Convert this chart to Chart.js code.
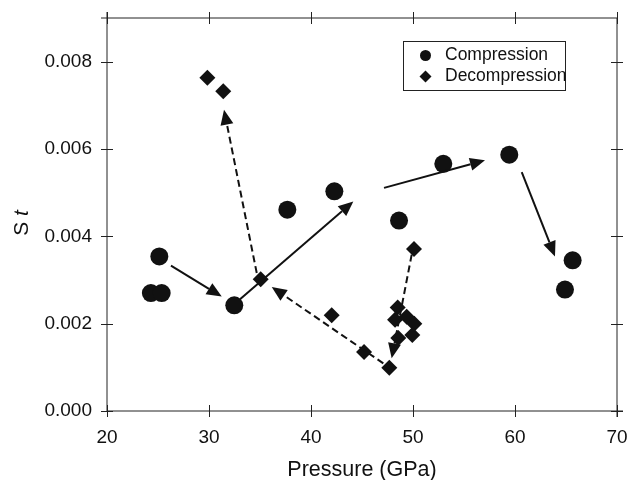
<!DOCTYPE html>
<html>
<head>
<meta charset="utf-8">
<script src="https://cdn.jsdelivr.net/npm/chart.js@4.4.0/dist/chart.umd.min.js"></script>
<style>
  html, body { margin: 0; padding: 0; background: #fff; }
  #wrap { width: 636px; height: 480px; }
</style>
</head>
<body>
<div id="wrap"><canvas id="chart"></canvas></div>
<script>
// Compression points (pressure in GPa, strain St)
const compP  = [24.3, 25.36, 25.13, 32.48, 37.68, 42.29, 48.63, 52.97, 59.44, 65.65, 64.9];
const compSt = [0.0027, 0.0027, 0.00354, 0.00242, 0.00461, 0.00503, 0.00436, 0.00566, 0.00587, 0.00345, 0.00278];

// Decompression points
const decP  = [29.84, 31.4, 35.07, 42.03, 45.2, 47.68, 50.1, 48.5, 48.24, 49.38, 50.13, 48.56, 49.93];
const decSt = [0.00763, 0.00732, 0.00302, 0.00219, 0.00135, 0.00099, 0.00371, 0.00237, 0.00209, 0.00216, 0.002, 0.00167, 0.00174];

// Arrows: start/end in data units
const solidFrom = [[26.27, 0.00333], [33.04, 0.00256], [47.16, 0.00511], [60.66, 0.00547]];
const solidTo   = [[31.25, 0.00262], [44.15, 0.0048], [57.06, 0.00574], [63.92, 0.00354]];
const dashFrom  = [[34.68, 0.00316], [47.09, 0.00109], [49.87, 0.00358]];
const dashTo    = [[31.47, 0.0069], [36.15, 0.00284], [47.91, 0.00121]];

const xTicks = [20, 30, 40, 50, 60, 70];
const yTicks = [0, 0.002, 0.004, 0.006, 0.008];
const seriesNames = ['Compression', 'Decompression'];

const FONT = '"Liberation Sans", Arial, Helvetica, sans-serif';
const INK = '#111';

function toXY(arr) {
  return arr.map((p, i) => ({ x: p, y: arr === compP ? compSt[i] : decSt[i] }));
}

// kill the automatic label overhang padding so layout.padding decides the plot box
function noPad(s) {
  s.paddingLeft = 0; s.paddingRight = 0; s.paddingTop = 0; s.paddingBottom = 0;
}

// frame with ticks crossing all four sides
const frameTicks = {
  id: 'frameTicks',
  beforeDatasetsDraw(chart) {
    const { ctx, chartArea: a, scales: { x, y } } = chart;
    ctx.save();
    ctx.strokeStyle = '#222';
    ctx.lineWidth = 1;
    ctx.beginPath();
    ctx.moveTo(a.left, a.top - 6); ctx.lineTo(a.left, a.bottom);
    ctx.moveTo(a.left, a.bottom); ctx.lineTo(a.right + 6, a.bottom);
    ctx.moveTo(a.left - 6, a.top); ctx.lineTo(a.right, a.top);
    ctx.moveTo(a.right, a.top); ctx.lineTo(a.right, a.bottom + 6);
    xTicks.forEach(v => {
      const px = Math.round(x.getPixelForValue(v)) + 0.5;
      ctx.moveTo(px, a.bottom - 6); ctx.lineTo(px, a.bottom + 6);
      ctx.moveTo(px, a.top - 6); ctx.lineTo(px, a.top + 6);
    });
    yTicks.forEach(v => {
      const py = Math.round(y.getPixelForValue(v)) + 0.5;
      ctx.moveTo(a.left - 6, py); ctx.lineTo(a.left + 6, py);
      ctx.moveTo(a.right - 6, py); ctx.lineTo(a.right + 6, py);
    });
    ctx.stroke();
    ctx.restore();
  }
};

function arrow(ctx, x0, y0, x1, y1, dashed) {
  const ang = Math.atan2(y1 - y0, x1 - x0);
  const hl = 15, hw = 6.5;
  const bx = x1 - Math.cos(ang) * hl, by = y1 - Math.sin(ang) * hl;
  ctx.save();
  ctx.strokeStyle = INK;
  ctx.fillStyle = INK;
  ctx.lineWidth = 2;
  ctx.setLineDash(dashed ? [7, 4] : []);
  ctx.beginPath();
  ctx.moveTo(x0, y0);
  ctx.lineTo(bx, by);
  ctx.stroke();
  ctx.setLineDash([]);
  ctx.beginPath();
  ctx.moveTo(x1, y1);
  ctx.lineTo(bx - Math.sin(ang) * hw, by + Math.cos(ang) * hw);
  ctx.lineTo(bx + Math.sin(ang) * hw, by - Math.cos(ang) * hw);
  ctx.closePath();
  ctx.fill();
  ctx.restore();
}

const arrowsPlugin = {
  id: 'arrows',
  afterDatasetsDraw(chart) {
    const { ctx, scales: { x, y } } = chart;
    solidFrom.forEach((f, i) => {
      const t = solidTo[i];
      arrow(ctx, x.getPixelForValue(f[0]), y.getPixelForValue(f[1]),
        x.getPixelForValue(t[0]), y.getPixelForValue(t[1]), false);
    });
    dashFrom.forEach((f, i) => {
      const t = dashTo[i];
      arrow(ctx, x.getPixelForValue(f[0]), y.getPixelForValue(f[1]),
        x.getPixelForValue(t[0]), y.getPixelForValue(t[1]), true);
    });
  }
};

// boxed legend inside the plot, plus the mixed-style y title
const extras = {
  id: 'extras',
  afterDraw(chart) {
    const { ctx } = chart;
    ctx.save();
    // legend box
    const lx = 403.5, ly = 41.5, lw = 162, lh = 49;
    ctx.strokeStyle = '#222';
    ctx.lineWidth = 1;
    ctx.strokeRect(lx, ly, lw, lh);
    ctx.fillStyle = INK;
    ctx.beginPath();
    ctx.arc(lx + 22, ly + 14, 5.5, 0, Math.PI * 2);
    ctx.fill();
    ctx.beginPath();
    const dx = lx + 22, dy = ly + 35, r = 6;
    ctx.moveTo(dx, dy - r); ctx.lineTo(dx + r, dy); ctx.lineTo(dx, dy + r); ctx.lineTo(dx - r, dy);
    ctx.closePath();
    ctx.fill();
    ctx.font = '17.5px ' + FONT;
    ctx.textBaseline = 'middle';
    ctx.fillText(seriesNames[0], lx + 41.5, ly + 14);
    ctx.fillText(seriesNames[1], lx + 41.5, ly + 35);

    // y title "S t" (t italic)
    ctx.translate(22, 223);
    ctx.rotate(-Math.PI / 2);
    const f1 = '21px ' + FONT, f2 = 'italic 21px ' + FONT;
    ctx.font = f1;
    const wS = ctx.measureText('S ').width;
    ctx.font = f2;
    const wt = ctx.measureText('t').width;
    const start = -(wS + wt) / 2;
    ctx.textBaseline = 'middle';
    ctx.textAlign = 'left';
    ctx.font = f1;
    ctx.fillText('S', start, 0);
    ctx.font = f2;
    ctx.fillText('t', start + wS, 0);
    ctx.restore();
  }
};

new Chart(document.getElementById('chart'), {
  type: 'scatter',
  data: {
    datasets: [
      {
        label: seriesNames[0],
        data: toXY(compP),
        pointStyle: 'circle',
        pointRadius: 9,
        pointHoverRadius: 9,
        backgroundColor: INK,
        borderColor: INK,
        borderWidth: 0
      },
      {
        label: seriesNames[1],
        data: toXY(decP),
        pointStyle: 'rectRot',
        pointRadius: 8,
        pointHoverRadius: 8,
        backgroundColor: INK,
        borderColor: INK,
        borderWidth: 0
      }
    ]
  },
  options: {
    responsive: true,
    maintainAspectRatio: false,
    animation: false,
    layout: { padding: { top: 18, right: 19, left: 0, bottom: 0 } },
    plugins: {
      legend: { display: false },
      tooltip: { enabled: false }
    },
    scales: {
      x: {
        type: 'linear',
        min: 20,
        max: 70,
        afterBuildTicks: s => { s.ticks = xTicks.map(v => ({ value: v })); },
        afterFit: s => { s.height = 69; noPad(s); },
        grid: { display: false, drawTicks: false },
        border: { display: false },
        ticks: { color: INK, padding: 15, font: { family: FONT, size: 19 } },
        title: {
          display: true,
          text: 'Pressure (GPa)',
          color: INK,
          padding: { top: 4, bottom: -3 },
          font: { family: FONT, size: 21.5 }
        }
      },
      y: {
        type: 'linear',
        min: 0,
        max: 0.009,
        afterBuildTicks: s => { s.ticks = yTicks.map(v => ({ value: v })); },
        afterFit: s => { s.width = 107; noPad(s); },
        grid: { display: false, drawTicks: false },
        border: { display: false },
        ticks: {
          color: INK,
          padding: 15,
          font: { family: FONT, size: 19 },
          callback: v => v.toFixed(3)
        }
      }
    }
  },
  plugins: [frameTicks, arrowsPlugin, extras]
});
</script>
</body>
</html>
